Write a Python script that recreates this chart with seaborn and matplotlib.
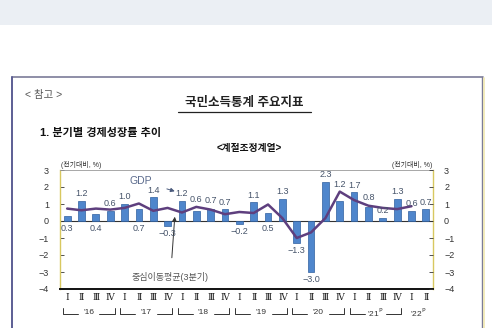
import numpy as np
import pandas as pd
import matplotlib
matplotlib.use("Agg")
import matplotlib.pyplot as plt
from matplotlib.lines import Line2D
from matplotlib.patches import Rectangle
import seaborn as sns

# ---------------- data ----------------
years = ["'16", "'17", "'18", "'19", "'20", "'21", "'22"]
quarter_names = ["Ⅰ", "Ⅱ", "Ⅲ", "Ⅳ"]
quarters = [f"{y}Q{q}" for y in range(2016, 2023) for q in range(1, 5)][:26]
gdp = [0.3, 1.2, 0.4, 0.6,
       1.0, 0.7, 1.4, -0.3,
       1.2, 0.6, 0.7, 0.7,
       -0.2, 1.1, 0.5, 1.3,
       -1.3, -3.0, 2.3, 1.2,
       1.7, 0.8, 0.2, 1.3,
       0.6, 0.7]
moving_avg = [0.73, 0.63, 0.73, 0.67,
              0.77, 1.03, 0.60, 0.77,
              0.50, 0.83, 0.67, 0.40,
              0.53, 0.47, 0.97, 0.17,
              -1.00, -0.67, 0.17, 1.73,
              1.23, 0.90, 0.77, 0.70,
              0.87]

# label placement (style)
label_below = [True, False, True, False, False, True, False, True,
               False, False, False, False, True, False, True, False,
               True, True, False, False, False, False, False, False,
               False, False]
label_extra = {9: 0.25, 10: 0.1, 19: 0.55, 21: 0.15}

sns.set_theme(style="white")
plt.rcParams["font.family"] = ["Liberation Sans", "Noto Sans CJK KR", "DejaVu Sans"]

W, H = 492, 328
fig = plt.figure(figsize=(W / 100, H / 100), dpi=100)
fig.patch.set_facecolor("white")

def fx(px):
    return px / W

def fy(py):
    return 1 - py / H

# top band
fig.add_artist(Rectangle((0, fy(25)), 1, 25 / H, transform=fig.transFigure,
                         facecolor="#ebeff4", edgecolor="none", zorder=0))
# document frame
fig.add_artist(Line2D([fx(12), fx(483)], [fy(77), fy(77)], transform=fig.transFigure,
                      color="#7c7c98", lw=1.2))
fig.add_artist(Line2D([fx(12), fx(12)], [fy(77), 0], transform=fig.transFigure,
                      color="#5c5e94", lw=1.4))
fig.add_artist(Line2D([fx(482), fx(482)], [fy(77), 0], transform=fig.transFigure,
                      color="#7c7c98", lw=1.0))
fig.add_artist(Line2D([fx(484), fx(484)], [fy(78), 0], transform=fig.transFigure,
                      color="#f0e8b0", lw=1.2))

# header texts
fig.text(fx(25), fy(95), "< 참고 >", fontsize=7.5, color="#555555", va="center", ha="left")
fig.text(fx(244), fy(103), "국민소득통계 주요지표", fontsize=9, color="#222222",
         va="center", ha="center", fontweight="bold")
fig.add_artist(Line2D([fx(178), fx(311)], [fy(112), fy(112)], transform=fig.transFigure,
                      color="#222222", lw=0.9))
fig.text(fx(40), fy(133), "1. 분기별 경제성장률 추이", fontsize=8, color="#111111",
         va="center", ha="left", fontweight="bold")
fig.text(fx(249), fy(148), "<계절조정계열>", fontsize=7, color="#111111",
         va="center", ha="center", fontweight="bold")

# axes
ax = fig.add_axes([fx(60), fy(289), fx(433) - fx(60), (289 - 170) / H])
df = pd.DataFrame({"quarter": quarters, "gdp": gdp})
sns.barplot(data=df, x="quarter", y="gdp", order=quarters, color="#4f86cc",
            width=0.47, edgecolor="#2f5f9f", linewidth=0.5, saturation=1, ax=ax, zorder=2)
ma_df = pd.DataFrame({"pos": np.arange(len(moving_avg)), "ma": moving_avg})
sns.lineplot(data=ma_df, x="pos", y="ma", color="#5e3f7e", lw=1.8, ax=ax, zorder=3)

ax.set_xlim(-0.5, len(quarters) - 0.5)
ax.set_ylim(-4, 3)
ax.axhline(0, color="#333333", lw=0.8, zorder=1)
ax.set_xlabel("")
ax.set_ylabel("")
ax.set_xticks([])
ax.set_yticks(range(-4, 4))
ax.set_yticklabels(["−4", "−3", "−2", "−1", "0", "1", "2", "3"])
ax.tick_params(axis="y", direction="in", length=3, width=0.6, color="#333333",
               labelsize=6.5, labelcolor="#333333", pad=8, left=True)
for s in ["left", "right"]:
    ax.spines[s].set_color("#d8c860")
    ax.spines[s].set_linewidth(1.0)
ax.spines["top"].set_color("#999999")
ax.spines["top"].set_linewidth(0.6)
ax.spines["bottom"].set_color("#111111")
ax.spines["bottom"].set_linewidth(1.4)

ax2 = ax.twinx()
ax2.set_ylim(-4, 3)
ax2.set_yticks(range(-4, 4))
ax2.set_yticklabels(["−4", "−3", "−2", "−1", "0", "1", "2", "3"])
ax2.tick_params(axis="y", direction="in", length=3, width=0.6, color="#333333",
                labelsize=6.5, labelcolor="#333333", pad=8, right=True)
ax2.grid(False)
for s in ax2.spines.values():
    s.set_visible(False)

# value labels
for i, v in enumerate(gdp):
    if label_below[i]:
        y = min(v, 0) - 0.15
        va = "top"
    else:
        y = v + 0.15 + label_extra.get(i, 0)
        va = "bottom"
    ax.text(i, y, f"{v:.1f}".replace("-", "−"), ha="center", va=va, fontsize=6.5,
            color="#46546a", zorder=4)

# units
fig.text(fx(61), fy(165), "(전기대비, %)", fontsize=5, color="#333333", va="center", ha="left")
fig.text(fx(432), fy(165), "(전기대비, %)", fontsize=5, color="#333333", va="center", ha="right")

# annotations
ax.annotate("GDP", xy=(7.5, 1.75), xytext=(5.1, 2.35), fontsize=7.5, color="#5a6a8c",
            ha="center", va="center",
            arrowprops=dict(arrowstyle="-|>", color="#4a5a7c", lw=0.7, mutation_scale=6,
                            shrinkA=9, shrinkB=0))
ax.annotate("중심이동평균(3분기)", xy=(7.5, 0.25), xytext=(7.2, -3.3), fontsize=6.5,
            color="#555555", ha="center", va="center",
            arrowprops=dict(arrowstyle="-|>", color="#333333", lw=0.7, mutation_scale=6,
                            shrinkA=8, shrinkB=0))

# x-axis quarter & year labels
tr = ax.get_xaxis_transform()
for i in range(len(quarters)):
    ax.text(i, -0.075, quarter_names[i % 4], transform=tr, ha="center", va="center",
            fontsize=6.5, color="#222222", family=["DejaVu Serif", "Noto Sans CJK KR"],
            clip_on=False)

ylab = -0.2
for k, yr in enumerate(years):
    start = k * 4
    end = min(start + 3, len(quarters) - 1)
    center = (start + end) / 2
    label = yr + ("$^{\\mathrm{P}}$" if k >= 5 else "")
    ax.text(center, ylab, label, transform=tr, ha="center", va="center", fontsize=6,
            color="#333333", clip_on=False)
    if end - start == 3:
        x0, x1 = start - 0.3, end + 0.3
        gap = 0.75
        kw = dict(transform=tr, color="#333333", lw=0.7, clip_on=False)
        ax.plot([x0, x0, center - gap], [ylab + 0.04, ylab - 0.01, ylab - 0.01], **kw)
        ax.plot([center + gap, x1, x1], [ylab - 0.01, ylab - 0.01, ylab + 0.04], **kw)

fig.savefig("out.png", dpi=100)
